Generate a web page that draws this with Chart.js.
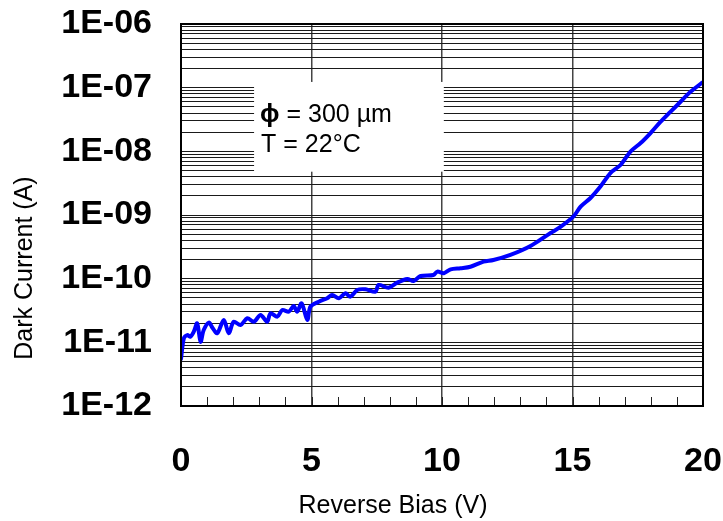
<!DOCTYPE html>
<html>
<head>
<meta charset="utf-8">
<title>Dark Current vs Reverse Bias</title>
<script src="https://cdn.jsdelivr.net/npm/chart.js@4/dist/chart.umd.min.js"></script>
<style>
  html, body { margin: 0; padding: 0; background: #fff; }
  canvas { display: block; }
</style>
</head>
<body>
<canvas id="iv" width="723" height="521"></canvas>
<script>
// Measured I-V curve: reverse bias (V) and dark current (A)
const biasVolts = [
  0.00, 0.11, 0.24, 0.36, 0.49, 0.62, 0.75, 0.87, 1.07, 1.21,
  1.39, 1.64, 1.83, 2.02, 2.28, 2.54, 2.79, 3.05, 3.30, 3.43,
  3.69, 3.88, 4.13, 4.32, 4.45, 4.62, 4.84, 4.96, 5.28, 5.60,
  5.79, 6.05, 6.30, 6.49, 6.75, 7.07, 7.45, 7.57, 7.95, 8.28,
  8.67, 8.91, 9.18, 9.67, 9.82, 10.07, 10.33, 10.71, 11.09, 11.59,
  11.97, 12.62, 13.39, 14.16, 14.54, 15.03, 15.31, 15.69, 16.07, 16.46,
  16.84, 17.22, 17.61, 17.99, 18.37, 18.76, 19.14, 19.52, 19.97
];
const darkCurrent = [
  5.5e-12, 1.16e-11, 1.30e-11, 1.23e-11, 1.47e-11, 1.99e-11, 1.02e-11, 1.56e-11, 2.04e-11, 1.68e-11,
  1.39e-11, 2.25e-11, 1.39e-11, 2.11e-11, 1.87e-11, 2.39e-11, 2.11e-11, 2.69e-11, 2.11e-11, 2.86e-11,
  2.53e-11, 3.22e-11, 3.03e-11, 3.72e-11, 3.03e-11, 4.10e-11, 2.25e-11, 3.63e-11, 4.35e-11, 4.92e-11,
  5.55e-11, 4.92e-11, 5.89e-11, 5.21e-11, 6.64e-11, 6.81e-11, 6.25e-11, 7.96e-11, 7.22e-11, 8.65e-11,
  9.89e-11, 9.20e-11, 1.10e-10, 1.14e-10, 1.29e-10, 1.22e-10, 1.40e-10, 1.46e-10, 1.54e-10, 1.85e-10,
  1.96e-10, 2.36e-10, 3.26e-10, 5.22e-10, 6.50e-10, 9.40e-10, 1.35e-9, 1.85e-9, 2.80e-9, 4.60e-9,
  6.10e-9, 9.90e-9, 1.35e-8, 1.94e-8, 2.90e-8, 4.20e-8, 6.00e-8, 8.60e-8, 1.20e-7
];

// Axis ticks
const xTickValues = [0, 5, 10, 15, 20];
const xTickLabels = ['0', '5', '10', '15', '20'];
const xMinorValues = [1, 2, 3, 4, 6, 7, 8, 9, 11, 12, 13, 14, 16, 17, 18, 19];
const yDecadeExponents = [-12, -11, -10, -9, -8, -7, -6];
const yTickLabels = ['1E-12', '1E-11', '1E-10', '1E-09', '1E-08', '1E-07', '1E-06'];
const yMantissas = [1, 2, 3, 4, 5, 6, 7, 8, 9];

// Note text
const noteLine1Symbol = '\u03D5';
const noteLine1Text = ' = 300 \u00B5m';
const noteLine2Text = 'T = 22\u00B0C';
const xTitle = 'Reverse Bias (V)';
const yTitle = 'Dark Current (A)';

const points = biasVolts.map((v, i) => ({ x: v, y: darkCurrent[i] }));

// Tick value lists built from the arrays above
const xAllTicks = [...xTickValues, ...xMinorValues].sort((a, b) => a - b);
const yAllTicks = [];
yDecadeExponents.forEach((e, di) => {
  if (di === yDecadeExponents.length - 1) {
    yAllTicks.push({ value: parseFloat('1e' + e), label: yTickLabels[di] });
    return;
  }
  yMantissas.forEach(m => {
    yAllTicks.push({ value: parseFloat(m + 'e' + e), label: m === 1 ? yTickLabels[di] : '' });
  });
});

const FONT = '"Liberation Sans", Arial, Helvetica, sans-serif';

// White note panel in data units
const notePanel = { vLeft: 2.8, vRight: 10.07, logTop: -6.91, logBottom: -8.32 };

const notePlugin = {
  id: 'notePanel',
  beforeDatasetsDraw(chart) {
    const { ctx, scales: { x, y } } = chart;
    const l = x.getPixelForValue(notePanel.vLeft);
    const r = x.getPixelForValue(notePanel.vRight);
    const t = y.getPixelForValue(Math.pow(10, notePanel.logTop));
    const b = y.getPixelForValue(Math.pow(10, notePanel.logBottom));
    ctx.save();
    ctx.fillStyle = '#ffffff';
    ctx.fillRect(l, t, r - l, b - t);
    ctx.fillStyle = '#000';
    ctx.textBaseline = 'alphabetic';
    ctx.textAlign = 'left';
    ctx.font = 'bold 26px ' + FONT;
    const sx = l + 6;
    ctx.fillText(noteLine1Symbol, sx, t + 40);
    const sw = ctx.measureText(noteLine1Symbol).width;
    ctx.font = '25px ' + FONT;
    ctx.fillText(noteLine1Text, sx + sw, t + 40);
    ctx.fillText(noteLine2Text, sx + 1, t + 70);
    ctx.restore();
  }
};

const framePlugin = {
  id: 'frame',
  afterDatasetsDraw(chart) {
    const { ctx, chartArea: a, scales: { x } } = chart;
    ctx.save();
    // inward minor ticks along the bottom edge
    ctx.strokeStyle = '#222';
    ctx.lineWidth = 1;
    xAllTicks.forEach(v => {
      const px = Math.round(x.getPixelForValue(v)) + 0.5;
      ctx.beginPath();
      ctx.moveTo(px, a.bottom);
      ctx.lineTo(px, a.bottom - 9);
      ctx.stroke();
    });
    ctx.strokeStyle = '#000';
    ctx.lineWidth = 2;
    ctx.strokeRect(a.left, a.top, a.right - a.left, a.bottom - a.top);
    ctx.restore();
  },
  afterDraw(chart) {
    const { ctx } = chart;
    ctx.save();
    ctx.fillStyle = '#000';
    ctx.font = '25px ' + FONT;
    ctx.textAlign = 'center';
    ctx.textBaseline = 'alphabetic';
    ctx.fillText(xTitle, 393, 513);
    ctx.translate(32, 268);
    ctx.rotate(-Math.PI / 2);
    ctx.fillText(yTitle, 0, 0);
    ctx.restore();
  }
};

new Chart(document.getElementById('iv'), {
  type: 'line',
  data: {
    datasets: [{
      data: points,
      borderColor: '#0000ff',
      borderWidth: 4,
      pointRadius: 0,
      fill: false,
      tension: 0.3,
      borderJoinStyle: 'round',
      borderCapStyle: 'round'
    }]
  },
  options: {
    responsive: false,
    animation: false,
    devicePixelRatio: 1,
    layout: { padding: 0 },
    plugins: { legend: { display: false }, tooltip: { enabled: false }, title: { display: false } },
    scales: {
      x: {
        type: 'linear',
        min: 0,
        max: 20,
        afterBuildTicks: s => { s.ticks = xAllTicks.map(v => ({ value: v })); },
        afterFit: s => { s.height = 115; s.paddingLeft = 0; s.paddingRight = 20; },
        border: { display: false },
        grid: {
          drawTicks: false,
          color: c => (c.tick && xTickValues.includes(c.tick.value) && c.tick.value > 0 && c.tick.value < 20) ? '#444' : 'rgba(0,0,0,0)',
          lineWidth: 1.5
        },
        ticks: {
          autoSkip: false,
          maxRotation: 0,
          padding: 35,
          color: '#000',
          font: { family: FONT, size: 34, weight: 'bold' },
          callback: v => {
            const i = xTickValues.indexOf(v);
            return i >= 0 ? xTickLabels[i] : '';
          }
        }
      },
      y: {
        type: 'logarithmic',
        min: 1e-12,
        max: 1e-6,
        afterBuildTicks: s => { s.ticks = yAllTicks.map(t => ({ value: t.value })); },
        afterFit: s => { s.width = 181; s.paddingTop = 24; s.paddingBottom = 0; },
        border: { display: false },
        grid: { drawTicks: false, color: '#1a1a1a', lineWidth: 1 },
        ticks: {
          autoSkip: false,
          padding: 29,
          color: '#000',
          font: { family: FONT, size: 34, weight: 'bold' },
          callback: (v, i) => yAllTicks[i] ? yAllTicks[i].label : ''
        }
      }
    }
  },
  plugins: [notePlugin, framePlugin]
});
</script>
</body>
</html>
